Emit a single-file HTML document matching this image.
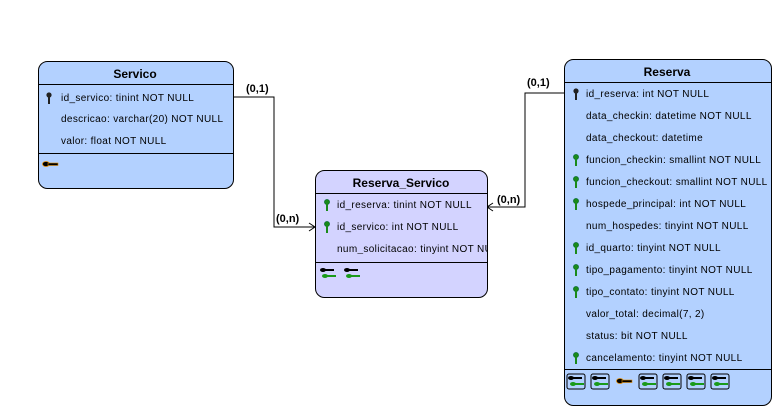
<!DOCTYPE html>
<html><head><meta charset="utf-8"><style>
html,body{margin:0;padding:0;background:#fff;}
svg text{font-family:"Liberation Sans",sans-serif;}
.r{font-size:10px;fill:#000;letter-spacing:0.35px;}
.h{font-size:12px;font-weight:bold;fill:#000;}
.l{font-size:11px;font-weight:bold;fill:#000;}
</style></head><body>
<svg width="774" height="410" viewBox="0 0 774 410" xmlns="http://www.w3.org/2000/svg">
<defs>
<g id="pk"><circle cx="0" cy="-3" r="2.6" fill="#1a8a1a" stroke="#063" stroke-width="0.6"/><rect x="-1" y="-1" width="2" height="7" fill="#1a8a1a"/></g>
<g id="pkb"><circle cx="0" cy="-3" r="2.6" fill="#222"/><rect x="-1" y="-1" width="2" height="7" fill="#222"/></g>
<g id="fk"><rect x="-1" y="-1" width="18" height="15" fill="none" stroke="#000" stroke-width="1" rx="2"/><ellipse cx="3" cy="3" rx="3" ry="2" fill="#000"/><rect x="5" y="2" width="9" height="2" fill="#000"/><ellipse cx="5" cy="9" rx="3" ry="2" fill="#1a9a1a"/><rect x="7" y="8" width="9" height="2" fill="#1a9a1a"/></g>
<g id="fk2"><ellipse cx="3" cy="3" rx="3" ry="2" fill="#000"/><rect x="5" y="2" width="9" height="2" fill="#000"/><ellipse cx="5" cy="9" rx="3" ry="2" fill="#1a9a1a"/><rect x="7" y="8" width="9" height="2" fill="#1a9a1a"/></g>
<g id="ok"><ellipse cx="3" cy="2" rx="3.5" ry="2.5" fill="#000" stroke="#e08a00" stroke-width="0.8"/><rect x="5" y="1" width="10" height="2.5" fill="#000" stroke="#e08a00" stroke-width="0.6"/></g>
</defs>

<polyline points="233,97 274,97 274,227 315,227" fill="none" stroke="#000" stroke-width="1"/>
<polyline points="309,223 315,227 309,231" fill="none" stroke="#000" stroke-width="1"/>
<polyline points="564,93 525,93 525,207 487,207" fill="none" stroke="#000" stroke-width="1"/>
<polyline points="493,203 487,207 493,211" fill="none" stroke="#000" stroke-width="1"/>
<text class="l" x="246" y="92">(0,1)</text>
<text class="l" x="276" y="222">(0,n)</text>
<text class="l" x="527" y="86">(0,1)</text>
<text class="l" x="497" y="203">(0,n)</text>

<rect x="38.5" y="61.5" width="195" height="127" rx="9" fill="#b3d1ff" stroke="#000"/>
<line x1="38.5" y1="84.5" x2="233.5" y2="84.5" stroke="#000"/>
<line x1="38.5" y1="153.5" x2="233.5" y2="153.5" stroke="#000"/>
<text class="h" x="135" y="78" text-anchor="middle">Servico</text>
<use href="#pkb" x="49" y="98"/>
<text class="r" x="61" y="101">id_servico: tinint NOT NULL</text>
<text class="r" x="61" y="122">descricao: varchar(20) NOT NULL</text>
<text class="r" x="61" y="144">valor: float NOT NULL</text>
<use href="#ok" x="43" y="162"/>

<rect x="315.5" y="170.5" width="172" height="127" rx="9" fill="#d3d3ff" stroke="#000"/>
<line x1="315.5" y1="193.5" x2="487.5" y2="193.5" stroke="#000"/>
<line x1="315.5" y1="262.5" x2="487.5" y2="262.5" stroke="#000"/>
<text class="h" x="401" y="187" text-anchor="middle">Reserva_Servico</text>
<use href="#pk" x="327" y="205"/>
<text class="r" x="337" y="208">id_reserva: tinint NOT NULL</text>
<use href="#pk" x="327" y="227"/>
<text class="r" x="337" y="230">id_servico: int NOT NULL</text>
<svg x="337" y="240" width="150" height="14"><text class="r" x="0" y="12">num_solicitacao: tinyint NOT NULL</text></svg>
<use href="#fk2" x="320" y="267"/>
<use href="#fk2" x="344" y="267"/>

<rect x="564.5" y="59.5" width="207" height="346" rx="9" fill="#b3d1ff" stroke="#000"/>
<line x1="564.5" y1="82.5" x2="771.5" y2="82.5" stroke="#000"/>
<line x1="564.5" y1="369.5" x2="771.5" y2="369.5" stroke="#000"/>
<text class="h" x="667" y="76" text-anchor="middle">Reserva</text>
<use href="#pkb" x="576" y="94"/>
<text class="r" x="586" y="97">id_reserva: int NOT NULL</text>
<text class="r" x="586" y="119">data_checkin: datetime  NOT NULL</text>
<text class="r" x="586" y="141">data_checkout: datetime</text>
<use href="#pk" x="576" y="160"/>
<text class="r" x="586" y="163">funcion_checkin: smallint NOT NULL</text>
<use href="#pk" x="576" y="182"/>
<svg x="586" y="175" width="185" height="14"><text class="r" x="0" y="10">funcion_checkout: smallint NOT NULL</text></svg>
<use href="#pk" x="576" y="204"/>
<text class="r" x="586" y="207">hospede_principal: int NOT NULL</text>
<text class="r" x="586" y="229">num_hospedes: tinyint NOT NULL</text>
<use href="#pk" x="576" y="248"/>
<text class="r" x="586" y="251">id_quarto: tinyint NOT NULL</text>
<use href="#pk" x="576" y="270"/>
<text class="r" x="586" y="273">tipo_pagamento: tinyint NOT NULL</text>
<use href="#pk" x="576" y="292"/>
<text class="r" x="586" y="295">tipo_contato: tinyint NOT NULL</text>
<text class="r" x="586" y="317">valor_total: decimal(7, 2)</text>
<text class="r" x="586" y="339">status: bit  NOT NULL</text>
<use href="#pk" x="576" y="358"/>
<text class="r" x="586" y="361">cancelamento: tinyint NOT NULL</text>
<use href="#fk" x="568" y="375"/>
<use href="#fk" x="592" y="375"/>
<use href="#ok" x="617" y="379"/>
<use href="#fk" x="640" y="375"/>
<use href="#fk" x="664" y="375"/>
<use href="#fk" x="688" y="375"/>
<use href="#fk" x="712" y="375"/>
</svg>
</body></html>
